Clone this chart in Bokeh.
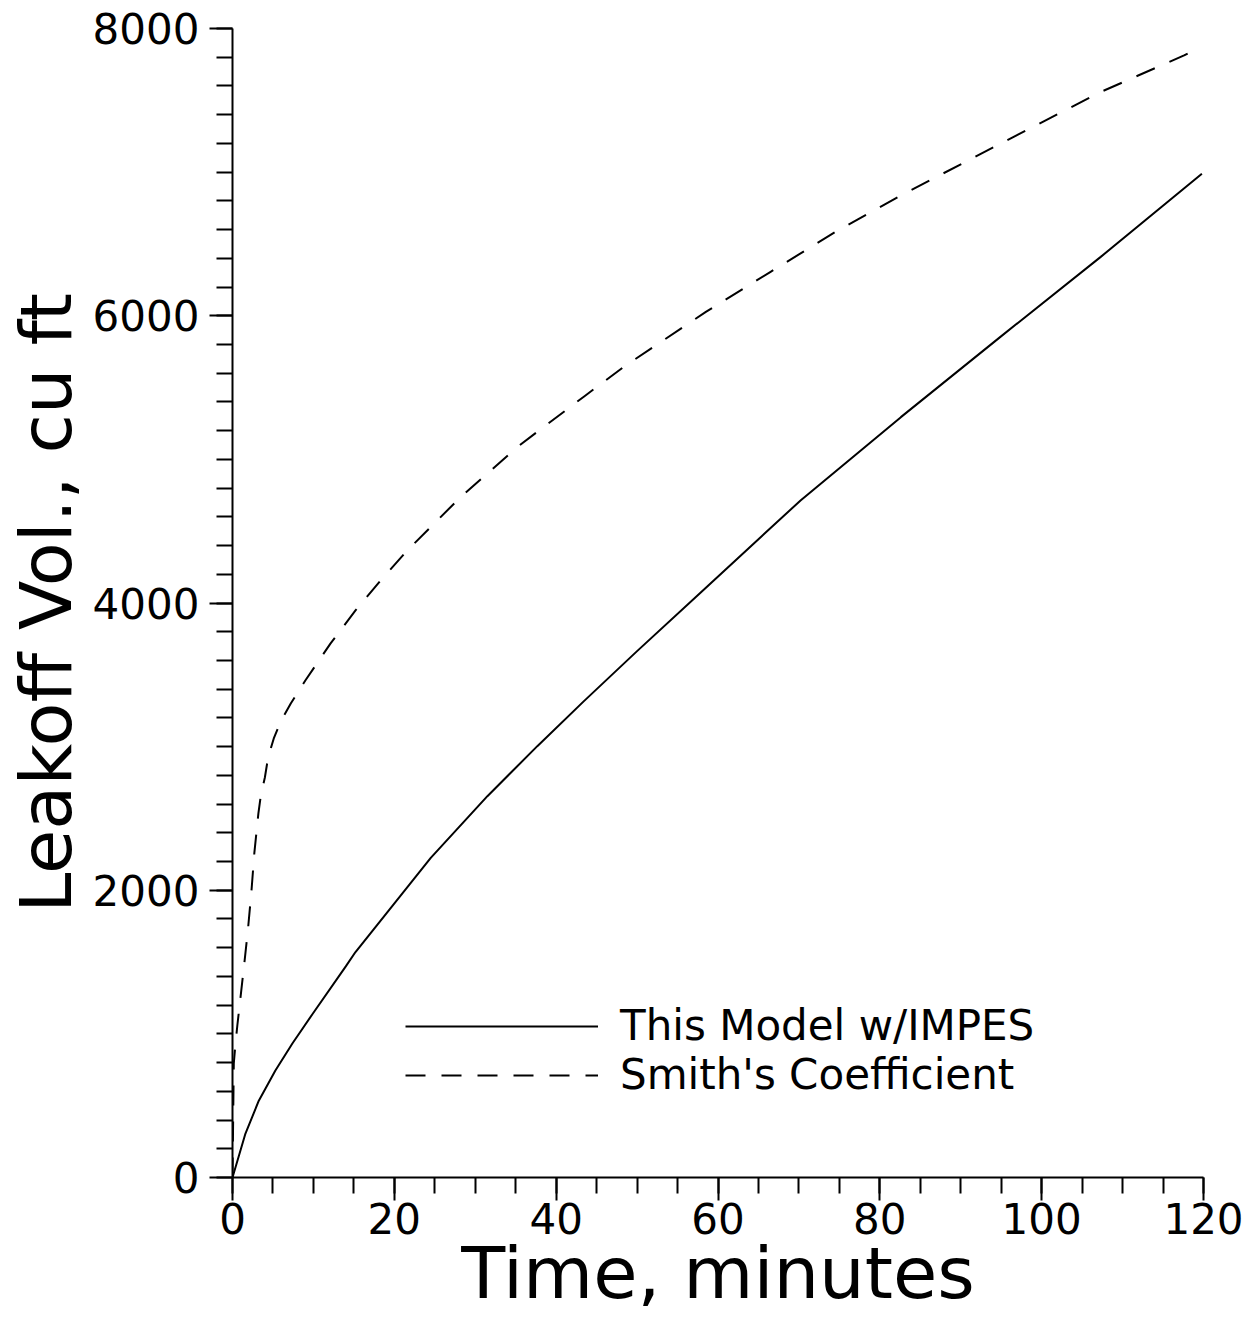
from bokeh.plotting import figure
from bokeh.models import Range1d, FixedTicker, Legend, LegendItem
from bokeh.embed import file_html
from bokeh.resources import INLINE

# Data
t_model = [0, 1.6, 3.25, 5.3, 7.4, 9.85, 14.0, 15.2, 24.5, 31.5, 37.7, 43.4, 50.0,
           57.8, 70.2, 82.6, 94.9, 107.3, 119.8]
v_model = [0, 306, 535, 745, 933, 1135, 1470, 1570, 2225, 2655, 3005, 3315, 3665,
           4070, 4714, 5294, 5853, 6410, 6989]

t_smith = [0, 0.1, 0.16, 0.35, 0.6, 1.0, 1.4, 1.9, 2.35, 2.7, 3.2, 3.5, 4.0, 4.4, 5.1,
           6.0, 7.2, 9.0, 12.1, 15.2, 18.3, 21.6, 24.9, 28.2, 31.7, 35.2, 39.1, 43.5,
           48.6, 58.5, 66.5, 74.7, 82.6, 94.9, 107.3, 117.6, 119.8]
v_smith = [0, 500, 794, 920, 1060, 1260, 1460, 1720, 2000, 2260, 2535, 2660, 2785, 2925,
           3057, 3180, 3300, 3460, 3717, 3948, 4157, 4366, 4552, 4738, 4912, 5086, 5253,
           5440, 5654, 6027, 6306, 6590, 6838, 7198, 7558, 7813, 7875]

x_major = [0, 20, 40, 60, 80, 100, 120]
x_minor = list(range(0, 121, 5))
y_major = [0, 2000, 4000, 6000, 8000]
y_minor = list(range(0, 8001, 200))

label_model = "This Model w/IMPES"
label_smith = "Smith's Coefficient"
x_title = "Time, minutes"
y_title = "Leakoff Vol., cu ft"

FONT = "DejaVu Sans"

p = figure(width=1257, height=1317, output_backend="svg", toolbar_location=None,
           x_range=Range1d(0, 120), y_range=Range1d(0, 8000),
           min_border_left=232, min_border_right=54, min_border_top=28,
           min_border_bottom=140)
p.outline_line_color = None
p.grid.visible = False
p.background_fill_color = "white"
p.border_fill_color = "white"

r1 = p.line(t_model, v_model, line_color="black", line_width=2)
r2 = p.line(t_smith, v_smith, line_color="black", line_width=2, line_dash="20 16")

for ax in (p.xaxis[0], p.yaxis[0]):
    ax.axis_line_color = "black"
    ax.axis_line_width = 2
    ax.major_tick_line_color = "black"
    ax.major_tick_line_width = 2
    ax.minor_tick_line_color = "black"
    ax.minor_tick_line_width = 2
    ax.major_tick_in = 0
    ax.minor_tick_in = 0
    ax.major_tick_out = 23
    ax.minor_tick_out = 16
    ax.major_label_text_font = FONT
    ax.major_label_text_font_size = "42px"
    ax.major_label_text_color = "black"
    ax.axis_label_text_font = FONT
    ax.axis_label_text_font_style = "normal"
    ax.axis_label_text_color = "black"

p.xaxis[0].axis_label_text_font_size = "72px"
p.yaxis[0].axis_label_text_font_size = "72px"
p.xaxis[0].ticker = FixedTicker(ticks=x_major, minor_ticks=x_minor)
p.yaxis[0].ticker = FixedTicker(ticks=y_major, minor_ticks=y_minor)
p.xaxis[0].major_label_standoff = 2
p.yaxis[0].major_label_standoff = 10
p.xaxis[0].axis_label = x_title
p.yaxis[0].axis_label = y_title
p.xaxis[0].axis_label_standoff = -6
p.yaxis[0].axis_label_standoff = 2


def make_legend(label, renderer, loc):
    lg = Legend(items=[LegendItem(label=label, renderers=[renderer])],
                location=loc, orientation="vertical")
    lg.glyph_width = 193
    lg.glyph_height = 40
    lg.label_height = 40
    lg.label_standoff = 22
    lg.spacing = 0
    lg.padding = 0
    lg.margin = 0
    lg.border_line_color = None
    lg.background_fill_alpha = 0
    lg.label_text_font = FONT
    lg.label_text_font_size = "42px"
    lg.label_text_color = "black"
    return lg


p.add_layout(make_legend(label_model, r1, (173, 127)))
p.add_layout(make_legend(label_smith, r2, (173, 78)))

open("out.html", "w").write(file_html(p, INLINE))
